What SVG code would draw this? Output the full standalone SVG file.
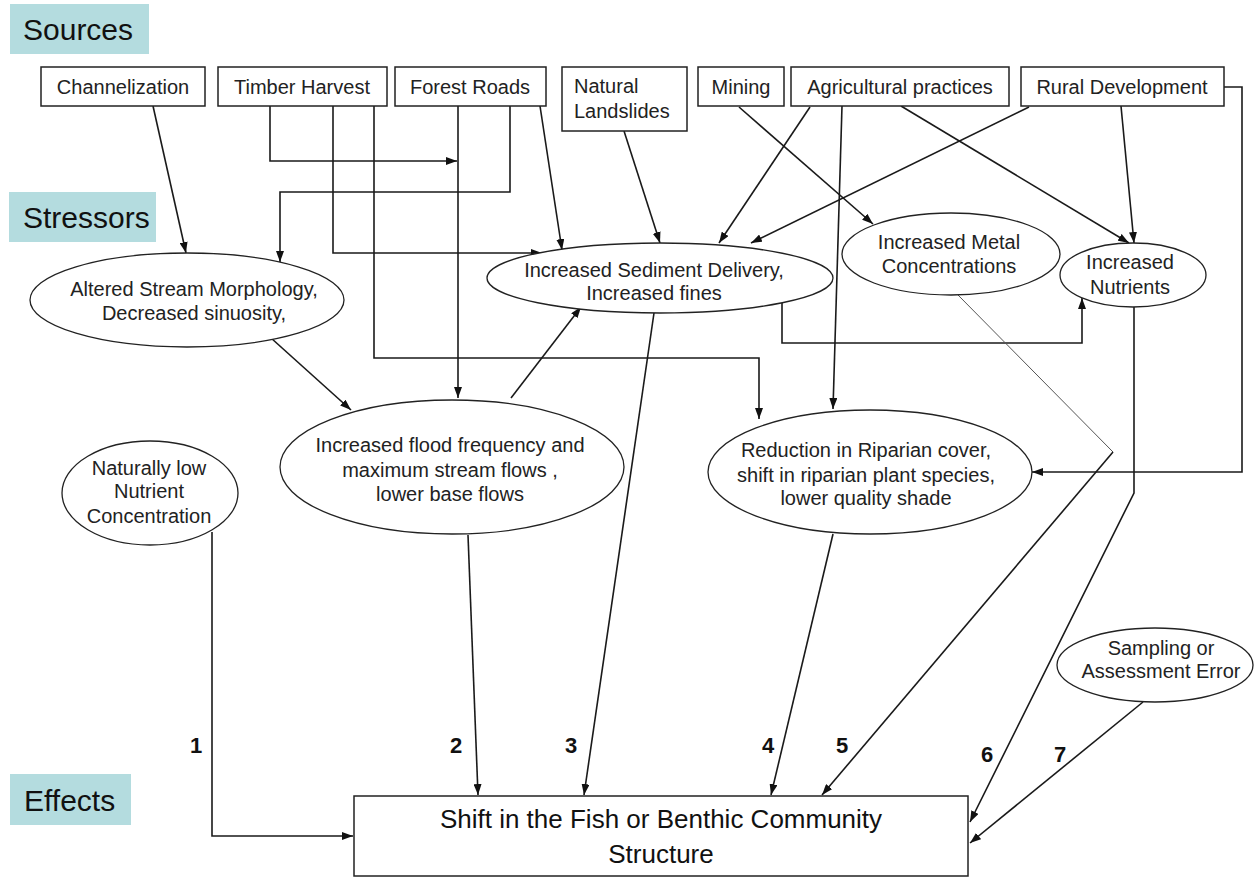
<svg xmlns="http://www.w3.org/2000/svg" width="1256" height="877" viewBox="0 0 1256 877">
<defs>
<marker id="ah" viewBox="0 0 11 8" refX="11" refY="4" markerWidth="11" markerHeight="8" markerUnits="userSpaceOnUse" orient="auto">
<path d="M0,0 L11,4 L0,8 Z" fill="#111"/>
</marker>
</defs>
<style>
.hdr{fill:#b4dcdf}
.hdrt{font-family:"Liberation Sans",Arial,sans-serif;font-size:30px;fill:#111}
.box{fill:#fff;stroke:#222;stroke-width:1.5}
.el{fill:#fff;stroke:#222;stroke-width:1.3}
.t{font-family:"Liberation Sans",Arial,sans-serif;font-size:20px;fill:#222;text-anchor:middle}
.tl{font-family:"Liberation Sans",Arial,sans-serif;font-size:20px;fill:#222}
.big{font-family:"Liberation Sans",Arial,sans-serif;font-size:26px;fill:#111;text-anchor:middle}
.num{font-family:"Liberation Sans",Arial,sans-serif;font-size:22px;font-weight:bold;fill:#111;text-anchor:middle}
.c{fill:none;stroke:#1a1a1a;stroke-width:1.6}
.ca{fill:none;stroke:#1a1a1a;stroke-width:1.6;marker-end:url(#ah)}
.thin{fill:none;stroke:#555;stroke-width:1}
</style>
<rect width="1256" height="877" fill="#fff"/>

<g id="hdr-sources"><rect class="hdr" x="10" y="4" width="139" height="50"/><text class="hdrt" x="23" y="40">Sources</text></g>
<g id="hdr-stressors"><rect class="hdr" x="9" y="192" width="147" height="50"/><text class="hdrt" x="23" y="228">Stressors</text></g>
<g id="hdr-effects"><rect class="hdr" x="10" y="774" width="121" height="51"/><text class="hdrt" x="24" y="811">Effects</text></g>

<g id="connectors">
<path class="ca" d="M153,106 L186,253"/>
<path class="ca" d="M270,106 V161 H457"/>
<path class="ca" d="M333,106 V253 H542"/>
<path class="ca" d="M374,106 V358 H759 V419"/>
<path class="ca" d="M458,106 V398"/>
<path class="ca" d="M510,106 V192 H280 V262"/>
<path class="ca" d="M540,106 L562,250"/>
<path class="ca" d="M624,131 L660,243"/>
<path class="ca" d="M810,107 L719,243"/>
<path class="ca" d="M1029,107 L751,243"/>
<path class="ca" d="M739,107 L873,224"/>
<path class="ca" d="M901,106 L1129,243"/>
<path class="ca" d="M1121,106 L1134,243"/>
<path class="ca" d="M842,106 L833,409"/>
<path class="ca" d="M1224,87 H1242 V472 H1032"/>
<path class="ca" d="M782,303 V343 H1082 V298"/>
<path class="ca" d="M271,338 L351,410"/>
<path class="ca" d="M511,398 L581,307"/>
<path class="ca" d="M212,532 V836 H353"/>
<path class="ca" d="M468,535 L478,795"/>
<path class="ca" d="M654,313 L584,795"/>
<path class="ca" d="M833,534 L771,795"/>
<path class="thin" d="M958,295 L1113,452"/>
<path class="ca" d="M1113,452 L822,795"/>
<path class="ca" d="M1134,307 V493 L970,822"/>
<path class="ca" d="M1143,702 L970,843"/>
</g>

<g id="channelization"><rect class="box" x="41" y="67" width="164" height="39"/><text class="t" x="123" y="94">Channelization</text></g>
<g id="timber-harvest"><rect class="box" x="218" y="67" width="169" height="39"/><text class="t" x="302" y="94">Timber Harvest</text></g>
<g id="forest-roads"><rect class="box" x="395" y="67" width="151" height="39"/><text class="t" x="470" y="94">Forest Roads</text></g>
<g id="natural-landslides"><rect class="box" x="562" y="67" width="125" height="64"/><text class="tl" x="574" y="93">Natural</text><text class="tl" x="574" y="118">Landslides</text></g>
<g id="mining"><rect class="box" x="698" y="67" width="86" height="39"/><text class="t" x="741" y="94">Mining</text></g>
<g id="agricultural-practices"><rect class="box" x="791" y="67" width="218" height="39"/><text class="t" x="900" y="94">Agricultural practices</text></g>
<g id="rural-development"><rect class="box" x="1021" y="67" width="203" height="39"/><text class="t" x="1122" y="94">Rural Development</text></g>

<g id="altered-morphology"><ellipse class="el" cx="187" cy="300" rx="157" ry="47"/><text class="t" x="194" y="296">Altered Stream Morphology,</text><text class="t" x="194" y="320">Decreased sinuosity,</text></g>
<g id="sediment"><ellipse class="el" cx="660" cy="278" rx="173" ry="35"/><text class="t" x="654" y="277">Increased Sediment Delivery,</text><text class="t" x="654" y="300">Increased fines</text></g>
<g id="metal"><ellipse class="el" cx="951" cy="254" rx="109" ry="41"/><text class="t" x="949" y="249">Increased Metal</text><text class="t" x="949" y="273">Concentrations</text></g>
<g id="nutrients"><ellipse class="el" cx="1133" cy="275" rx="73" ry="32"/><text class="t" x="1130" y="269">Increased</text><text class="t" x="1130" y="294">Nutrients</text></g>
<g id="flood"><ellipse class="el" cx="452" cy="467" rx="172" ry="67"/><text class="t" x="450" y="452">Increased flood frequency and</text><text class="t" x="450" y="477">maximum stream flows ,</text><text class="t" x="450" y="501">lower base flows</text></g>
<g id="naturally-low"><ellipse class="el" cx="150" cy="493" rx="88" ry="52"/><text class="t" x="149" y="475">Naturally low</text><text class="t" x="149" y="498">Nutrient</text><text class="t" x="149" y="523">Concentration</text></g>
<g id="riparian"><ellipse class="el" cx="870" cy="472" rx="162" ry="62"/><text class="t" x="866" y="457">Reduction in Riparian cover,</text><text class="t" x="866" y="482">shift in riparian plant species,</text><text class="t" x="866" y="505">lower quality shade</text></g>
<g id="sampling-error"><ellipse class="el" cx="1155" cy="665" rx="98" ry="37"/><text class="t" x="1161" y="655">Sampling or</text><text class="t" x="1161" y="678">Assessment Error</text></g>

<g id="effect-shift"><rect class="box" x="354" y="796" width="614" height="80"/><text class="big" x="661" y="828">Shift in the Fish or Benthic Community</text><text class="big" x="661" y="863">Structure</text></g>

<g id="path-numbers">
<text class="num" x="196" y="753">1</text>
<text class="num" x="456" y="753">2</text>
<text class="num" x="571" y="753">3</text>
<text class="num" x="768" y="753">4</text>
<text class="num" x="842" y="753">5</text>
<text class="num" x="987" y="762">6</text>
<text class="num" x="1060" y="762">7</text>
</g>
</svg>
